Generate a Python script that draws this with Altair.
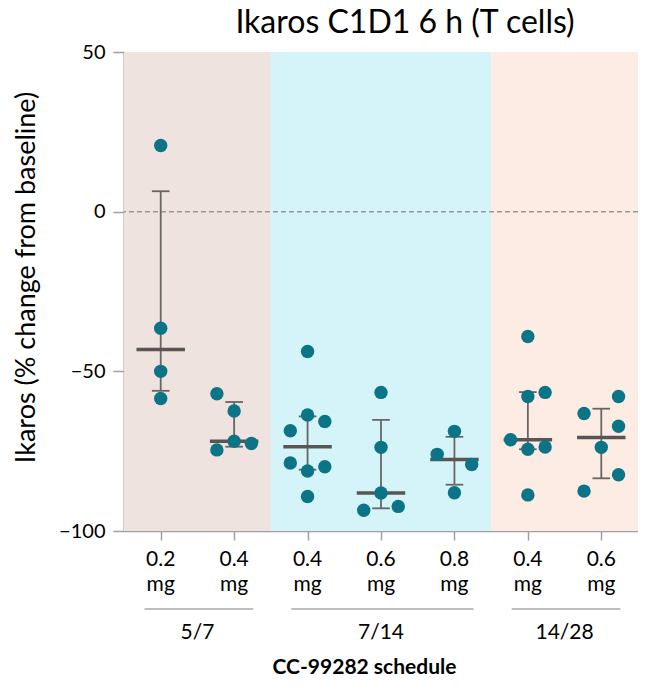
import altair as alt
import pandas as pd

chart_title = "Ikaros C1D1 6 h (T cells)"
y_title = "Ikaros (% change from baseline)"
x_title = "CC-99282 schedule"

# categories (dose groups) along x
group_pos = [1, 2, 3, 4, 5, 6, 7]
dose_labels = ["0.2\nmg", "0.4\nmg", "0.4\nmg", "0.6\nmg", "0.8\nmg", "0.4\nmg", "0.6\nmg"]

# schedules
schedules = ["5/7", "7/14", "14/28"]
sched_first = [1, 3, 6]
sched_last = [2, 5, 7]
band_colors = ["#EEE3DF", "#D4F4F9", "#FDECE4"]

# individual patient values per group (with side-by-side offset slot)
g1_vals = [20.7, -36.5, -50.0, -58.5]
g1_slot = [0, 0, 0, 0]
g2_vals = [-57.0, -62.4, -74.6, -71.9, -72.6]
g2_slot = [-1, 0, -1, 0, 1]
g3_vals = [-43.8, -63.7, -65.7, -68.6, -78.7, -79.9, -81.2, -89.2]
g3_slot = [0, 0, 1, -1, -1, 1, 0, 0]
g4_vals = [-56.6, -73.8, -88.1, -92.3, -93.5]
g4_slot = [0, 0, 0, 1, -1]
g5_vals = [-68.8, -76.0, -79.2, -88.0]
g5_slot = [0, -1, 1, 0]
g6_vals = [-39.1, -56.6, -57.9, -71.4, -74.4, -73.7, -88.7]
g6_slot = [0, 1, 0, -1, 0, 1, 0]
g7_vals = [-57.9, -63.2, -67.2, -73.8, -82.4, -87.5]
g7_slot = [1, -1, 1, 0, 1, -1]

# summary statistics per group
medians = [-43.2, -71.9, -73.6, -88.1, -77.6, -71.4, -70.7]
err_hi = [6.4, -59.6, -64.1, -65.2, -70.5, -56.5, -61.7]
err_lo = [-56.1, -73.6, -80.8, -92.9, -85.5, -74.4, -83.5]

reference_line = [0]
y_ticks = [-100, -50, 0, 50]

# ---- tables ----
all_vals = [g1_vals, g2_vals, g3_vals, g4_vals, g5_vals, g6_vals, g7_vals]
all_slots = [g1_slot, g2_slot, g3_slot, g4_slot, g5_slot, g6_slot, g7_slot]
rows = []
for g, vals, slots in zip(group_pos, all_vals, all_slots):
    for v, s in zip(vals, slots):
        rows.append({"group": g, "slot": s, "value": v})
points_df = pd.DataFrame(rows)

stats_df = pd.DataFrame({"group": group_pos, "median": medians, "hi": err_hi,
                         "lo": err_lo, "dose": dose_labels})
sched_df = pd.DataFrame({"schedule": schedules, "first": sched_first, "last": sched_last})
zero_df = pd.DataFrame({"y": reference_line})

W, H = 514, 479
xscale = alt.Scale(domain=[0.5, 7.5], nice=False, zero=False)
yscale = alt.Scale(domain=[-100, 50], nice=False, zero=False)
FONT = "Lato"

bands = alt.Chart(sched_df).mark_rect().transform_calculate(
    x0="datum.first - 0.5", x1="datum.last + 0.5"
).encode(
    x=alt.X("x0:Q", scale=xscale, axis=alt.Axis(
        values=group_pos, labels=False, ticks=True, tickSize=9, tickColor="#a0a0a0",
        tickWidth=1.5, domainColor="#a0a0a0", domainWidth=1.5, grid=False,
        title=x_title, titleFont=FONT, titleFontSize=21, titleFontWeight="bold",
        titleColor="black", titleX=240, titleY=136, titleBaseline="middle",
        titleAnchor="start", titleAlign="center")),
    x2="x1:Q",
    y=alt.value(0), y2=alt.value(H),
    color=alt.Color("schedule:N", scale=alt.Scale(domain=schedules, range=band_colors), legend=None),
)

zero = alt.Chart(zero_df).mark_rule(color="#9a9a9a", strokeWidth=1.5, strokeDash=[5, 3]).encode(
    y=alt.Y("y:Q", scale=yscale, axis=alt.Axis(
        values=y_ticks, tickSize=11, tickColor="#a0a0a0", tickWidth=1.5,
        domainColor="#a0a0a0", domainWidth=2, grid=False, labelFont=FONT,
        labelFontSize=20, labelColor="black", labelPadding=8,
        title=y_title, titleFont=FONT, titleFontSize=27, titleFontWeight="normal",
        titleColor="black", titleX=-98, titleY=225, titleAngle=-90,
        titleBaseline="middle", titleAlign="center", titleAnchor="start")),
)

vbar = alt.Chart(stats_df).mark_rule(color="#6a6464", strokeWidth=1.8).encode(
    x=alt.X("group:Q", scale=xscale), y=alt.Y("lo:Q", scale=yscale), y2="hi:Q")

cap_hi = alt.Chart(stats_df).mark_rule(color="#6a6464", strokeWidth=1.8).transform_calculate(
    a="datum.group - 0.12", b="datum.group + 0.12"
).encode(x=alt.X("a:Q", scale=xscale), x2="b:Q", y=alt.Y("hi:Q", scale=yscale))

cap_lo = alt.Chart(stats_df).mark_rule(color="#6a6464", strokeWidth=1.8).transform_calculate(
    a="datum.group - 0.12", b="datum.group + 0.12"
).encode(x=alt.X("a:Q", scale=xscale), x2="b:Q", y=alt.Y("lo:Q", scale=yscale))

med = alt.Chart(stats_df).mark_rule(color="#5a5555", strokeWidth=3.5).transform_calculate(
    a="datum.group - 0.33", b="datum.group + 0.33"
).encode(x=alt.X("a:Q", scale=xscale), x2="b:Q", y=alt.Y("median:Q", scale=yscale))

pts = alt.Chart(points_df).mark_circle(size=180, opacity=1, color="#0B7587").transform_calculate(
    xp="datum.group + datum.slot * 0.235"
).encode(x=alt.X("xp:Q", scale=xscale), y=alt.Y("value:Q", scale=yscale))

dose_txt = alt.Chart(stats_df).mark_text(
    lineBreak="\n", baseline="top", align="center", font=FONT, fontSize=21,
    lineHeight=25, color="black"
).encode(x=alt.X("group:Q", scale=xscale), y=alt.value(H + 18), text="dose:N")

sched_line = alt.Chart(sched_df).mark_rule(color="#a8a8a8", strokeWidth=1.5).transform_calculate(
    a="datum.first - 0.22", b="datum.last + 0.26"
).encode(x=alt.X("a:Q", scale=xscale), x2="b:Q", y=alt.value(H + 78))

sched_txt = alt.Chart(sched_df).mark_text(
    baseline="middle", align="center", font=FONT, fontSize=21, color="black"
).transform_calculate(c="(datum.first + datum.last) / 2").encode(
    x=alt.X("c:Q", scale=xscale), y=alt.value(H + 102), text="schedule:N")

chart = alt.layer(
    bands, zero, vbar, cap_hi, cap_lo, med, pts, dose_txt, sched_line, sched_txt
).properties(
    width=W, height=H,
    title=alt.TitleParams(chart_title, font=FONT, fontSize=32, fontWeight="normal",
                          color="black", anchor="middle", frame="group", dx=24,
                          offset=2),
    autosize=alt.AutoSizeParams(type="none"),
    padding={"left": 116, "top": 44, "right": 0, "bottom": 148},
).configure_view(stroke=None)

chart.save("out.html", embed_options={"renderer": "svg", "actions": False})
